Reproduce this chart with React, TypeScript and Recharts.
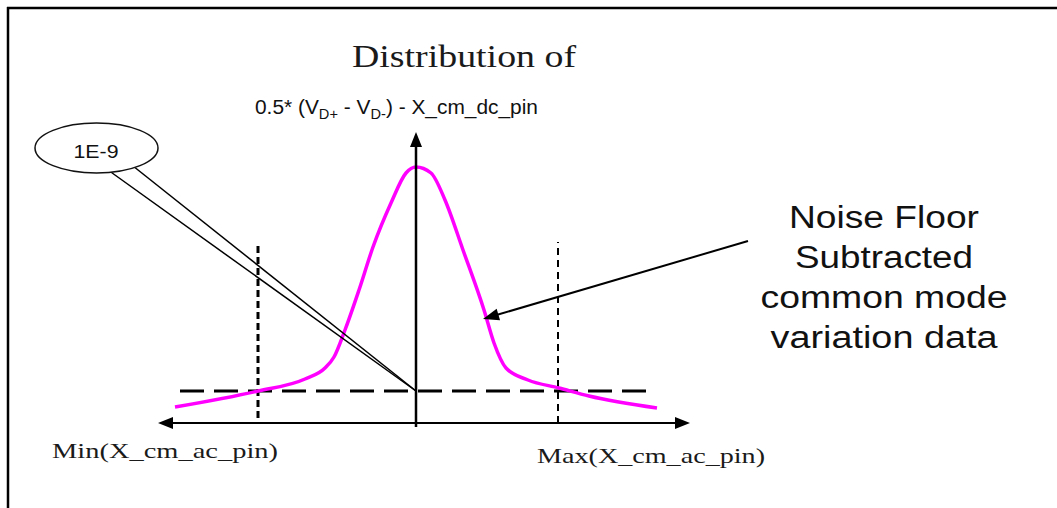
import React from 'react';
import { ComposedChart, Line, XAxis, YAxis, ReferenceLine } from 'recharts';

// offsets from the centre of the distribution and the curve height
const offsets = [-241, -158, -111, -91, -82, -71, -57, -43, -25, -10, 0, 15, 29, 47, 68, 78, 90, 112, 143, 173, 241];
const density = [16, 32, 44, 55, 66, 93, 133, 176, 220, 250, 256, 250, 223, 173, 113, 80, 55, 43, 35, 27, 15];

const floorLevel = 32;
const minLimit = -158;
const maxLimit = 142;

const titleText = 'Distribution of';
const minLabel = 'Min(X_cm_ac_pin)';
const maxLabel = 'Max(X_cm_ac_pin)';
const calloutText = '1E-9';
const noiseLines = ['Noise Floor', 'Subtracted', 'common mode', 'variation data'];
const noiseWidths = [190, 178, 247, 227];

const data = offsets.map((x, i) => ({ x, y: density[i] }));

const SERIF = '"Liberation Serif", "Times New Roman", serif';
const SANS = '"Liberation Sans", Arial, sans-serif';

function headPoints(x1: number, y1: number, x2: number, y2: number, len: number, half: number) {
  const a = Math.atan2(y2 - y1, x2 - x1);
  const bx = x2 - len * Math.cos(a);
  const by = y2 - len * Math.sin(a);
  const px = -Math.sin(a) * half;
  const py = Math.cos(a) * half;
  return `${x2},${y2} ${bx + px},${by + py} ${bx - px},${by - py}`;
}

// line with an arrow head at the end (and at the start too when both is set)
const arrowShape = (both: boolean, width: number, len = 14, half = 5.5) => (props: any) => {
  const { x1, y1, x2, y2 } = props;
  const a = Math.atan2(y2 - y1, x2 - x1);
  const ex = x2 - (len - 2) * Math.cos(a);
  const ey = y2 - (len - 2) * Math.sin(a);
  const sx = both ? x1 + (len - 2) * Math.cos(a) : x1;
  const sy = both ? y1 + (len - 2) * Math.sin(a) : y1;
  return (
    <g>
      <line x1={sx} y1={sy} x2={ex} y2={ey} stroke="#000" strokeWidth={width} />
      <polygon points={headPoints(x1, y1, x2, y2, len, half)} fill="#000" />
      {both && <polygon points={headPoints(x2, y2, x1, y1, len, half)} fill="#000" />}
    </g>
  );
};

export default function App() {
  return (
    <div style={{ position: 'absolute', left: 0, top: 0, width: 1057, height: 508, background: '#fff' }}>
      <ComposedChart
        width={1057}
        height={508}
        data={data}
        margin={{ top: 132, right: 367, bottom: 85, left: 158 }}
      >
        <XAxis dataKey="x" type="number" domain={[-258, 274]} allowDataOverflow hide height={0} />
        <YAxis type="number" domain={[0, 291]} allowDataOverflow hide width={0} />

        <ReferenceLine
          segment={[{ x: minLimit, y: 5 }, { x: minLimit, y: 181 }]}
          stroke="#000"
          strokeWidth={3}
          strokeDasharray="7 4"
          ifOverflow="visible"
        />
        <ReferenceLine
          segment={[{ x: maxLimit, y: 0 }, { x: maxLimit, y: 181 }]}
          stroke="#000"
          strokeWidth={2}
          strokeDasharray="7 5"
          ifOverflow="visible"
        />
        <ReferenceLine
          segment={[{ x: -236, y: floorLevel }, { x: 236, y: floorLevel }]}
          stroke="#000"
          strokeWidth={3}
          strokeDasharray="24 10"
          ifOverflow="visible"
        />

        <Line
          dataKey="y"
          type="monotone"
          stroke="#ff00ff"
          strokeWidth={3.5}
          dot={false}
          activeDot={false}
          isAnimationActive={false}
        />

        <ReferenceLine
          segment={[{ x: -258, y: 0 }, { x: 274, y: 0 }]}
          ifOverflow="visible"
          shape={arrowShape(true, 2.2, 15, 6)}
        />
        <ReferenceLine
          segment={[{ x: 0, y: -4 }, { x: 0, y: 291 }]}
          ifOverflow="visible"
          shape={arrowShape(false, 2.5, 15, 6)}
        />
        <ReferenceLine
          segment={[{ x: 332, y: 182 }, { x: 67, y: 104 }]}
          ifOverflow="visible"
          shape={arrowShape(false, 2, 16, 6)}
        />

        <ReferenceLine
          segment={[{ x: -283, y: 257 }, { x: 0, y: floorLevel }]}
          stroke="#000"
          strokeWidth={1.5}
          ifOverflow="visible"
        />
        <ReferenceLine
          segment={[{ x: -308, y: 253 }, { x: 0, y: floorLevel }]}
          stroke="#000"
          strokeWidth={1.5}
          ifOverflow="visible"
        />
      </ComposedChart>

      <svg
        width={1057}
        height={508}
        style={{ position: 'absolute', left: 0, top: 0, pointerEvents: 'none' }}
      >
        <line x1={8} y1={7} x2={8} y2={508} stroke="#000" strokeWidth={2.5} />
        <line x1={7} y1={8} x2={1057} y2={8} stroke="#000" strokeWidth={2.5} />

        <text x={352} y={67} fontFamily={SERIF} fontSize={31} fill="#1a1a1a" textLength={224} lengthAdjust="spacingAndGlyphs">
          {titleText}
        </text>
        <text x={255} y={114} fontFamily={SANS} fontSize={20} fill="#111" textLength={283} lengthAdjust="spacingAndGlyphs">
          0.5* (V<tspan fontSize={14} dy={5}>D+</tspan>
          <tspan dy={-5}> - V</tspan>
          <tspan fontSize={14} dy={5}>D-</tspan>
          <tspan dy={-5}>) - X_cm_dc_pin</tspan>
        </text>

        <ellipse cx={96.5} cy={148} rx={61.5} ry={25} fill="#fff" stroke="#111" strokeWidth={1.5} />
        <text x={96} y={158} textAnchor="middle" fontFamily={SANS} fontSize={18} fill="#111" textLength={45} lengthAdjust="spacingAndGlyphs">
          {calloutText}
        </text>

        {noiseLines.map((t, i) => (
          <text
            key={t}
            x={884}
            y={228 + i * 40}
            textAnchor="middle"
            fontFamily={SANS}
            fontSize={31}
            fill="#111"
            textLength={noiseWidths[i]}
            lengthAdjust="spacingAndGlyphs"
          >
            {t}
          </text>
        ))}

        <text x={52} y={458} fontFamily={SERIF} fontSize={22} fill="#1a1a1a" textLength={226} lengthAdjust="spacingAndGlyphs">
          {minLabel}
        </text>
        <text x={537} y={463} fontFamily={SERIF} fontSize={22} fill="#1a1a1a" textLength={228} lengthAdjust="spacingAndGlyphs">
          {maxLabel}
        </text>
      </svg>
    </div>
  );
}
